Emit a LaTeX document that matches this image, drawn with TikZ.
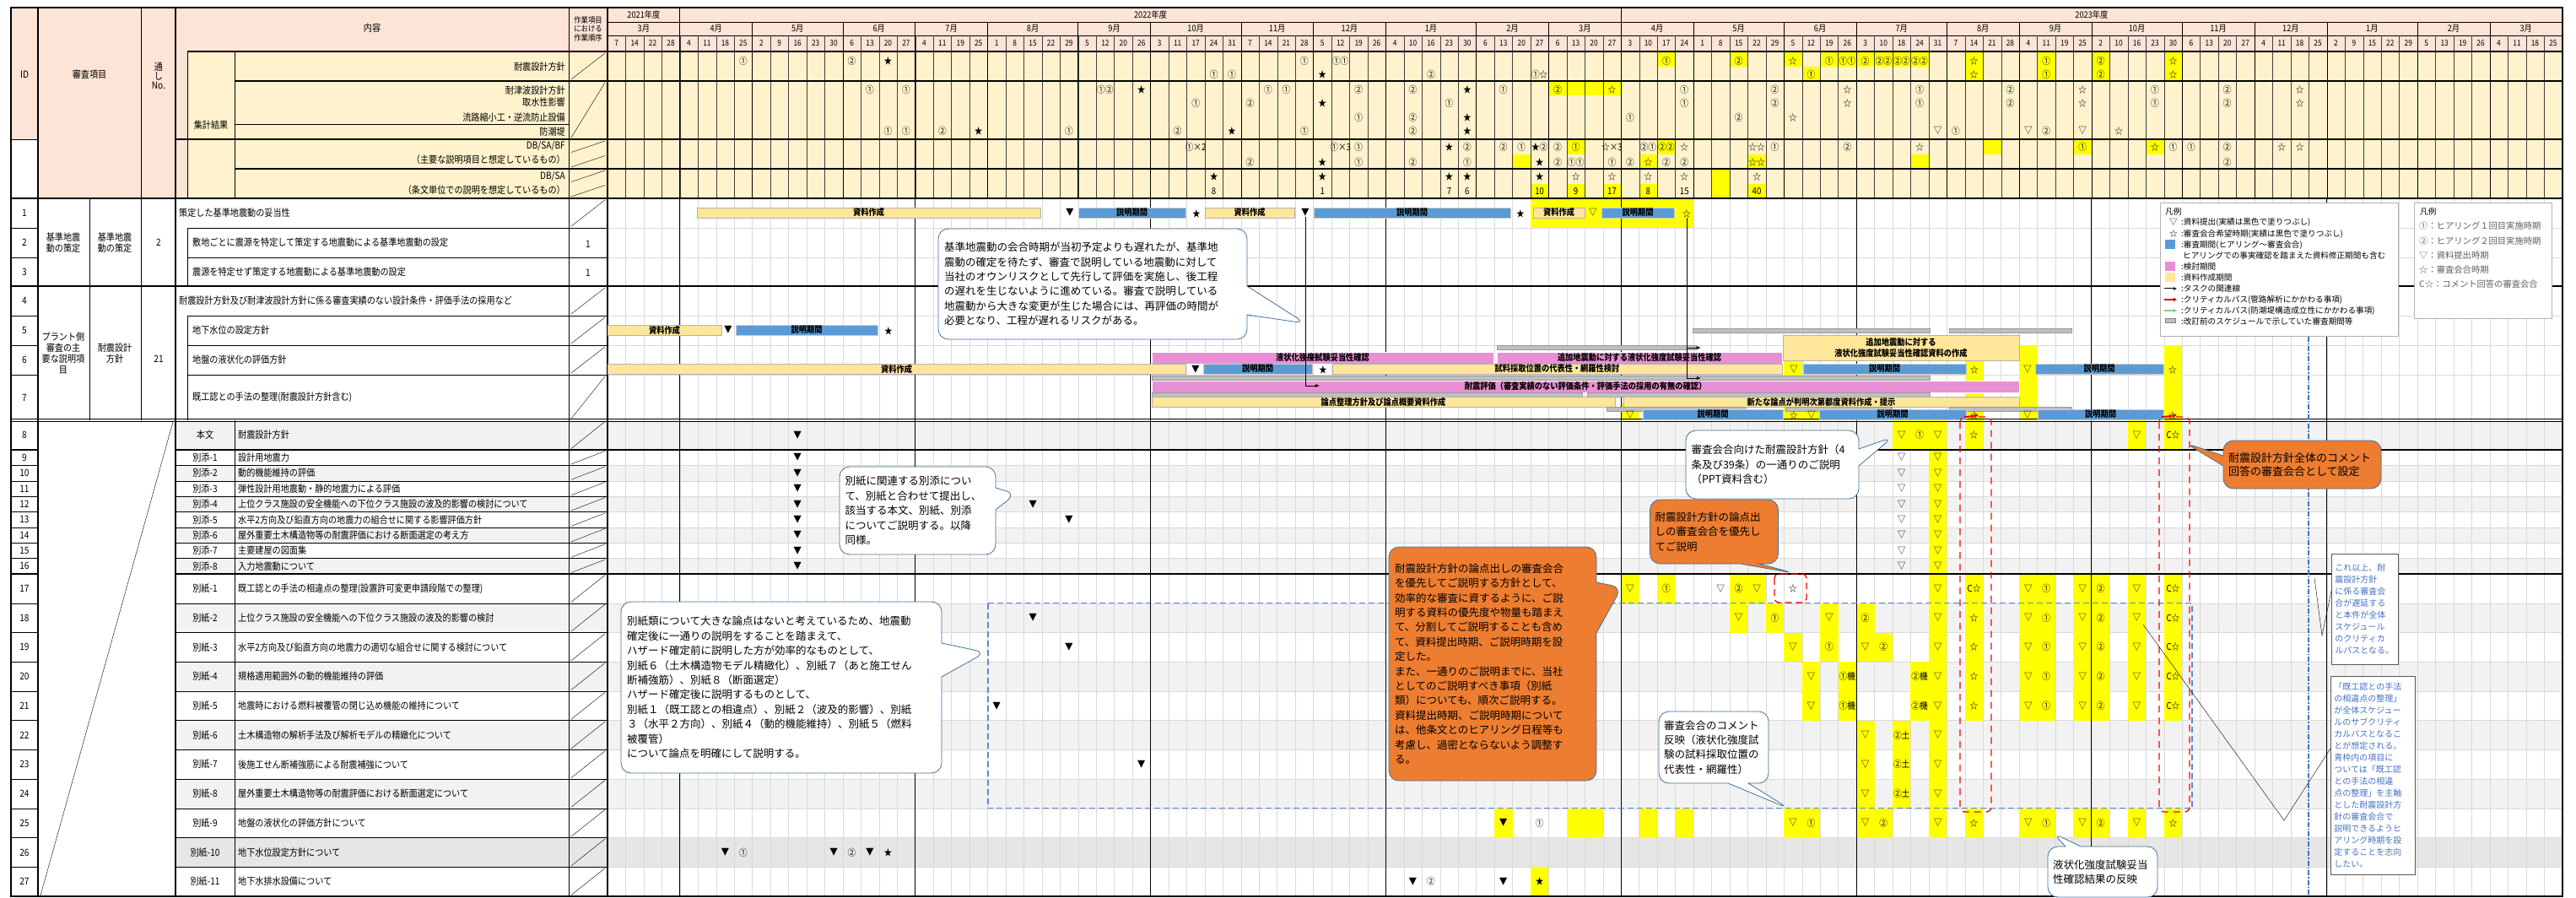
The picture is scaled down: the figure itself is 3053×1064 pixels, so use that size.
\documentclass[tikz,border=0pt]{standalone}
\usepackage{fontspec}
\setmainfont{Noto Sans CJK JP}[FakeStretch=0.88]
\newfontfamily\wfont{Noto Sans CJK JP}
\usetikzlibrary{shapes.callouts,arrows.meta}

\definecolor{hdrpink}{HTML}{FCE4D6}
\definecolor{cream}{HTML}{FFF2CC}
\definecolor{matY}{HTML}{FFE699}
\definecolor{revB}{HTML}{5B9BD5}
\definecolor{studyP}{HTML}{E98FD5}
\definecolor{oldG}{HTML}{BFBFBF}
\definecolor{hl}{HTML}{FFFF00}
\definecolor{rowgray}{HTML}{F2F2F2}
\definecolor{rowdark}{HTML}{E6E6E6}
\definecolor{gridgray}{HTML}{D9D9D9}
\definecolor{calloutO}{HTML}{ED7D31}
\definecolor{calloutB}{HTML}{41719C}
\definecolor{noteblue}{HTML}{4472C4}

% week grid: left edge and centre of week #1
\newcommand{\wx}[1]{720+21.45*(#1)}
\newcommand{\wc}[1]{730.725+21.45*(#1)}
% bar: style, x from, x to, y, name, text
\newcommand{\gbar}[6]{\node[#1, minimum width={(#3)-(#2)}] (#5) at ({((#2)+(#3))/2},#4) {#6};}

\tikzset{
  lbl/.style={font=\fontsize{11.5}{13}\selectfont, anchor=west, inner sep=0pt},
  hdr/.style={font=\fontsize{11.5}{13}\selectfont, inner sep=0pt, align=center},
  wk/.style={font=\fontsize{9.5}{10}\selectfont, inner sep=0pt},
  mk/.style={font=\fontsize{11}{11}\selectfont, inner sep=0pt},
  bar/.style={minimum height=12pt, inner sep=0pt, line width=0.3pt, font=\fontsize{10.5}{11}\selectfont\bfseries},
  barY/.style={bar, fill=matY, draw=gray!60},
  barB/.style={bar, fill=revB, draw=gray!40},
  barP/.style={bar, fill=studyP, draw=white, minimum height=14pt},
  barG/.style={bar, fill=oldG, draw=gray!80, minimum height=5pt},
  heavy/.style={line width=1.2pt},
  note/.style={rectangle callout, draw=calloutB, fill=white, line width=0.8pt, rounded corners=12pt, inner sep=6pt, align=left, font=\wfont\fontsize{12.5}{17.4}\selectfont},
  noteO/.style={note, fill=calloutO},
  bluebox/.style={draw=gray!70!black, line width=0.8pt, fill=white, inner sep=4pt, align=left, anchor=north west, text=noteblue, font=\wfont\fontsize{10}{14}\selectfont},
  legtxt/.style={anchor=west, inner sep=0pt, font=\wfont\fontsize{9.6}{11}\selectfont}
}

\begin{document}
\begin{tikzpicture}[x=1pt,y=1pt,yscale=-1]
\useasboundingbox (0,0) rectangle (3053,1064);
\fill[white] (0,0) rectangle (3053,1064);

%% fills
\fill[hdrpink] (13,9) rectangle (3037,61);
\fill[hdrpink] (13,61) rectangle (222,235);
\fill[white] (13,165) rectangle (45,235);
\fill[cream] (222,61) rectangle (3037,235);
\foreach \a/\b in {498/533,551.4/569.8,588.1/606.5,624.9/643.3,661.6/680,714.7/749.5,784.2/818.9,853.6/888.4,923.1/957.8}
  \fill[rowgray] (208,\a) rectangle (3037,\b);
\fill[rowdark] (208,992.6) rectangle (3037,1027.3);

%% light grid of the schedule
\foreach \i in {1,...,107}
  \draw[gridgray, line width=0.4pt] ({\wx{\i}},235) -- ({\wx{\i}},1062);
\foreach \y in {270,305,374,409,444,551.4,569.8,588.1,606.5,624.9,643.3,661.6,714.7,749.5,784.2,818.9,853.6,888.4,923.1,957.8,992.6,1027.3}
  \draw[gridgray, line width=0.4pt] (720,\y) -- (3037,\y);

%% yellow cells
\fill[hl] ({\wx{51}},235) rectangle ({\wx{60}},270);
\foreach \i/\a/\b in {58/61/79,62/61/79,65/61/79,67/61/79,68/61/79,69/61/79,70/61/79,71/61/79,72/61/79,75/61/96,79/61/96,82/61/96,86/61/96,66/79/96,
  52/96/113,53/96/113,54/96/113,55/96/113,
  53/165/183,58/165/183,76/165/183,81/165/183,85/165/183,50/183/200,57/183/200,63/183/200,72/183/200,
  61/200/235,51/218/235,53/218/235,55/218/235,57/218/235,63/218/235,
  56/478/498,65/428/498,66/478/498,75/427/498,78/409/498,86/409/498,
  73/498/992.6,71/498/533,72/498/533,75/498/533,84/498/533,86/498/533,
  75/680/853.6,78/680/853.6,79/680/853.6,81/680/853.6,82/680/853.6,84/680/853.6,86/680/853.6,
  75/957.8/992.6,78/957.8/992.6,79/957.8/992.6,81/957.8/992.6,82/957.8/992.6,84/957.8/992.6,86/957.8/992.6,
  56/680/714.7,58/680/714.7,62/680/714.7,63/680/714.7,
  62/714.7/749.5,64/714.7/749.5,67/714.7/749.5,69/714.7/749.5,
  65/749.5/784.2,67/749.5/784.2,69/749.5/784.2,70/749.5/784.2,
  66/784.2/853.6,68/784.2/853.6,72/784.2/853.6,69/853.6/957.8,71/853.6/957.8,
  49/957.8/992.6,53/957.8/992.6,54/957.8/992.6,57/957.8/992.6,59/957.8/992.6,65/957.8/992.6,66/957.8/992.6,69/957.8/992.6,70/957.8/992.6,
  51/1027.3/1062}
  \fill[hl] ({\wx{\i}},\a) rectangle ({\wx{\i+1}},\b);

%% header lines
\draw[line width=0.5pt] (720,26) -- (3037,26);
\draw[line width=0.5pt] (720,42) -- (3037,42);
\foreach \i in {1,...,107}
  \draw[black!75, line width=0.3pt] ({\wx{\i}},42) -- ({\wx{\i}},235);
\foreach \i in {8,13,17,21,26,30,35,39,43,48,52,60,65,69,74,78,82,87,91,95,100,104}
  \draw[line width=0.5pt] ({\wx{\i}},26) -- ({\wx{\i}},235);
\foreach \i in {4,56}
  \draw[line width=0.9pt] ({\wx{\i}},9) -- ({\wx{\i}},235);
\foreach \i in {4,17,30,43,56,69,82,95}
  \draw[line width=0.9pt] ({\wx{\i}},235) -- ({\wx{\i}},1062);
\draw[heavy] (222,61) -- (3037,61);
\draw[heavy] (278,96) -- (3037,96);
\draw (278,147) -- (674,147);
\draw[heavy] (208,165) -- (3037,165);
\draw (13,165) -- (45,165);
\draw[heavy] (278,200) -- (3037,200);
\draw[heavy] (13,235) -- (3037,235);

%% column lines
\draw[heavy] (45,9) -- (45,1062);
\draw (106,235) -- (106,498);
\draw (167,9) -- (167,498);
\draw[heavy] (208,9) -- (208,1062);
\draw (222,61) -- (222,235);
\draw (278,61) -- (278,235);
\draw (222,270) -- (222,339);
\draw (222,374) -- (222,498);
\draw (278,498) -- (278,1062);
\draw (674,9) -- (674,1062);
\draw[heavy] (720,9) -- (720,1062);

%% row lines
\foreach \y in {270,305,374,409,444} {\draw (13,\y) -- (45,\y); \draw (222,\y) -- (720,\y);}
\draw[heavy] (13,339) -- (3037,339);
\draw (13,496) -- (3037,496);
\draw (13,499.5) -- (3037,499.5);
\draw[heavy] (13,533) -- (45,533);
\draw[heavy] (208,533) -- (3037,533);
\draw[heavy] (13,680) -- (45,680);
\draw[heavy] (208,680) -- (3037,680);
\foreach \y in {551.4,569.8,588.1,606.5,624.9,643.3,661.6,714.7,749.5,784.2,818.9,853.6,888.4,923.1,957.8,992.6,1027.3}
  {\draw (13,\y) -- (45,\y); \draw (208,\y) -- (720,\y);}
\draw (205,500) -- (48,1061);
\foreach \a/\b in {61/96,96/165,165/182.5,182.5/200,200/217.5,217.5/235,235/270,339/374,374/409,409/444,444/498}
  \draw (677,\b-2) -- (717,\a+2);
\draw[line width=1.8pt] (13,9) rectangle (3037,1062);

%% header texts
% Text Node
\node[hdr] (hid) at (29,88) {ID};
\node[hdr] (hitem) at (106,88) {審査項目};
\node[hdr, font=\fontsize{11.5}{11}\selectfont] (hno) at (188,90) {通\\し\\No.};
\node[hdr] (hcont) at (441,33) {内容};
\node[hdr, font=\fontsize{9.5}{10.5}\selectfont] (hord) at (697,34) {作業項目\\における\\作業順序};
\node[hdr] (hsum) at (250,148) {集計結果};
\node[lbl, anchor=east] (sm1) at (670,79) {耐震設計方針};
\node[lbl, anchor=east] (sm2) at (670,107) {耐津波設計方針};
\node[lbl, anchor=east] (sm3) at (670,121) {取水性影響};
\node[lbl, anchor=east] (sm4) at (670,139) {流路縮小工・逆流防止設備};
\node[lbl, anchor=east] (sm5) at (670,156) {防潮堤};
\node[lbl, anchor=east] (sm6) at (670,173) {DB/SA/BF};
\node[lbl, anchor=east] (sm7) at (670,189) {（主要な説明項目と想定しているもの）};
\node[lbl, anchor=east] (sm8) at (670,209) {DB/SA};
\node[lbl, anchor=east] (sm9) at (670,225) {（条文単位での説明を想定しているもの）};

% Text Node: years, months, weeks
\node[hdr, font=\fontsize{10.5}{11}\selectfont] (yr21) at ({\wx{2}},17.5) {2021年度};
\node[hdr, font=\fontsize{10.5}{11}\selectfont] (yr22) at ({\wx{30}},17.5) {2022年度};
\node[hdr, font=\fontsize{10.5}{11}\selectfont] (yr23) at ({\wx{82}},17.5) {2023年度};
\foreach \m/\a/\b in {3月/0/4,4月/4/8,5月/8/13,6月/13/17,7月/17/21,8月/21/26,9月/26/30,10月/30/35,11月/35/39,12月/39/43,1月/43/48,2月/48/52,3月/52/56,4月/56/60,5月/60/65,6月/65/69,7月/69/74,8月/74/78,9月/78/82,10月/82/87,11月/87/91,12月/91/95,1月/95/100,2月/100/104,3月/104/108}
  \node[hdr, font=\fontsize{10.5}{11}\selectfont] (mo\a) at ({\wx{(\a+\b)/2}},34) {\m};
\foreach \d [count=\i from 0] in {7,14,22,28,4,11,18,25,2,9,16,23,30,6,13,20,27,4,11,19,25,1,8,15,22,29,5,12,20,26,3,11,17,24,31,7,14,21,28,5,12,19,26,4,10,16,23,30,6,13,20,27,6,13,20,27,3,10,17,24,1,8,15,22,29,5,12,19,26,3,10,18,24,31,7,14,21,28,4,11,19,25,2,10,16,23,30,6,13,20,27,4,11,18,25,2,9,15,22,29,5,13,19,26,4,11,18,25}
  \node[wk] (dy\i) at ({\wc{\i}},51.5) {\d};

% marks of the summary rows
\foreach \i/\yy/\m in {7/72/①,13/72/②,15/72/★,38/72/①,40/72/①①,58/72/①,62/72/②,65/72/☆,67/72/①,68/72/①①,69/72/②,70/72/②②,71/72/②②,72/72/②②,75/72/☆,79/72/①,82/72/②,86/72/☆,
  33/88/①,34/88/①,39/88/★,45/88/②,51/88/①☆,66/88/①,75/88/☆,79/88/①,82/88/②,86/88/☆,
  14/106/①,16/106/①,27/106/①②,29/106/★,36/106/①,37/106/①,41/106/②,44/106/②,47/106/★,49/106/①,52/106/②,55/106/☆,59/106/①,64/106/②,68/106/☆,72/106/①,77/106/②,81/106/☆,85/106/①,89/106/②,93/106/☆,
  32/122/①,35/122/②,39/122/★,46/122/①,59/122/①,64/122/②,68/122/☆,72/122/①,77/122/②,81/122/☆,85/122/①,89/122/②,93/122/☆,
  41/139/①,44/139/②,47/139/★,56/139/①,62/139/②,65/139/☆,
  15/155/①,16/155/①,18/155/②,20/155/★,25/155/①,31/155/②,34/155/★,38/155/①,44/155/②,47/155/★,73/155/▽,74/155/①,78/155/▽,79/155/②,81/155/▽,83/155/☆,
  32/174/①×2,40/174/①×3,41/174/①,46/174/★,47/174/②,49/174/②,50/174/①,51/174/★②,52/174/②,53/174/①,55/174/☆×3,57/174/②①,58/174/②②,59/174/☆,63/174/☆☆,64/174/①,68/174/②,72/174/☆,81/174/①,85/174/☆,86/174/①,87/174/①,89/174/②,92/174/☆,93/174/☆,
  35/192/②,39/192/★,41/192/①,44/192/②,47/192/①,51/192/★,52/192/②,53/192/①①,55/192/①,56/192/②,57/192/☆,58/192/②,59/192/②,63/192/☆☆,89/192/②,
  33/209/★,39/209/★,46/209/★,47/209/★,51/209/★,53/209/☆,55/209/☆,57/209/☆,59/209/☆,63/209/☆,
  33/227/8,39/227/1,46/227/7,47/227/6,51/227/10,53/227/9,55/227/17,57/227/8,59/227/15,63/227/40}
  \node[mk] (k\i-\yy) at ({\wc{\i}},\yy) {\m};

%% rows 1-7
\foreach \n/\y in {1/252.5,2/287.5,3/322,4/356.5,5/391.5,6/426.5,7/471}
  \node[hdr] (id\n) at (29,\y) {\n};
\node[hdr] (grpA1) at (75,287.5) {基準地震\\動の策定};
\node[hdr] (grpB1) at (136,287.5) {基準地震\\動の策定};
\node[hdr] (no1) at (188,287.5) {2};
\node[hdr] (grpA2) at (75,419) {プラント側\\審査の主\\要な説明項\\目};
\node[hdr] (grpB2) at (136,419) {耐震設計\\方針};
\node[hdr] (no2) at (188,425) {21};
\node[lbl] (c1) at (212,252.5) {策定した基準地震動の妥当性};
\node[lbl] (c2) at (228,287.5) {敷地ごとに震源を特定して策定する地震動による基準地震動の設定};
\node[lbl] (c3) at (228,322) {震源を特定せず策定する地震動による基準地震動の設定};
\node[lbl] (c4) at (212,356.5) {耐震設計方針及び耐津波設計方針に係る審査実績のない設計条件・評価手法の採用など};
\node[lbl] (c5) at (228,391.5) {地下水位の設定方針};
\node[lbl] (c6) at (228,426.5) {地盤の液状化の評価方針};
\node[lbl] (c7) at (228,471) {既工認との手法の整理(耐震設計方針含む)};
\node[hdr] (ord2) at (697,289) {1};
\node[hdr] (ord3) at (697,323) {1};

%% rows 8-27
\foreach \tg/\lab/\y/\hh [count=\rw from 8] in {本文/耐震設計方針/515.5/17.5,別添-1/設計用地震力/542.2/9.2,別添-2/動的機能維持の評価/560.6/9.2,別添-3/弾性設計用地震動・静的地震力による評価/579/9.2,別添-4/上位クラス施設の安全機能への下位クラス施設の波及的影響の検討について/597.3/9.2,別添-5/水平2方向及び鉛直方向の地震力の組合せに関する影響評価方針/615.7/9.2,別添-6/屋外重要土木構造物等の耐震評価における断面選定の考え方/634.1/9.2,別添-7/主要建屋の図面集/652.5/9.2,別添-8/入力地震動について/670.8/9.2,
  別紙-1/既工認との手法の相違点の整理(設置許可変更申請段階での整理)/697.4/17.4,別紙-2/上位クラス施設の安全機能への下位クラス施設の波及的影響の検討/732.1/17.4,別紙-3/水平2方向及び鉛直方向の地震力の適切な組合せに関する検討について/766.8/17.4,別紙-4/規格適用範囲外の動的機能維持の評価/801.5/17.4,別紙-5/地震時における燃料被覆管の閉じ込め機能の維持について/836.3/17.4,別紙-6/土木構造物の解析手法及び解析モデルの精緻化について/871/17.4,別紙-7/後施工せん断補強筋による耐震補強について/905.7/17.4,別紙-8/屋外重要土木構造物等の耐震評価における断面選定について/940.4/17.4,別紙-9/地盤の液状化の評価方針について/975.2/17.4,別紙-10/地下水位設定方針について/1009.9/17.4,別紙-11/地下水排水設備について/1044.6/17.4}
{
  \node[hdr] (id\rw) at (29,\y) {\rw};
  \node[hdr] (tag\rw) at (243,\y) {\tg};
  \node[lbl] (c\rw) at (282,\y) {\lab};
  \draw (677,\y+\hh-1.5) -- (717,\y-\hh+1.5);
}

%% bars, row 1
\gbar{barY}{826}{1233}{252}{r1a}{資料作成}
\node[mk] (r1t1) at (1268,252) {▼};
\gbar{barB}{1278}{1405}{252}{r1b}{説明期間}
\node[mk] (r1s1) at (1418,253) {★};
\gbar{barY}{1428}{1534}{252}{r1c}{資料作成}
\node[mk] (r1t2) at (1547,252) {▼};
\gbar{barB}{1557}{1790}{252}{r1d}{説明期間}
\node[mk] (r1s2) at (1802,253) {★};
\gbar{barY}{1817}{1878}{252}{r1e}{資料作成}
\node[mk] (r1t3) at (1888,252) {▽};
\gbar{barB}{1898}{1984}{252}{r1f}{説明期間}
\node[mk] (r1s3) at (1999,253) {☆};
%% row 5
\gbar{barY}{720}{855}{391}{r5a}{資料作成}
\node[mk] (r5t1) at (863,391) {▼};
\gbar{barB}{872}{1040}{391}{r5b}{説明期間}
\node[mk] (r5s1) at (1053,392) {★};
%% row 6
\gbar{barG}{2006}{2287}{391.5}{r6g2}{}
\gbar{barG}{2310}{2455}{391.5}{r6g3}{}
\gbar{barG}{1774}{2010}{412}{r6g1}{}
\node[barY, minimum width=280pt, minimum height=30pt, align=center, font=\fontsize{10.5}{13}\selectfont\bfseries] (r6m) at (2253,412) {追加地震動に対する\\液状化強度試験妥当性確認資料の作成};
\gbar{barP}{1365}{1770}{424}{r6p1}{液状化強度試験妥当性確認}
\gbar{barP}{1774}{2112}{424}{r6p2}{追加地震動に対する液状化強度試験妥当性確認}
\gbar{barY}{720}{1405}{437}{r6a}{資料作成}
\node[mk] (r6t1) at (1417,438) {▼};
\gbar{barB}{1426}{1555}{437}{r6b}{説明期間}
\node[mk] (r6s1) at (1568,438) {★};
\gbar{barY}{1579}{2112}{437}{r6c}{試料採取位置の代表性・網羅性検討}
\node[mk] (r6t2) at (2126,438) {▽};
\gbar{barB}{2137}{2330}{437}{r6d}{説明期間}
\node[mk] (r6s2) at (2340,438) {☆};
\node[mk] (r6t3) at (2403,438) {▽};
\gbar{barB}{2412}{2564}{437}{r6e}{説明期間}
\node[mk] (r6s3) at (2575,438) {☆};
%% row 7
\gbar{barG}{1365}{2287}{447.5}{r7g1}{}
\gbar{barP}{1365}{2393}{458}{r7p1}{耐震評価（審査実績のない評価条件・評価手法の採用の有無の確認）}
\gbar{barG}{1365}{1875}{468}{r7g2}{}
\gbar{barG}{1881}{2287}{468}{r7g3}{}
\gbar{barY}{1365}{1914}{476}{r7a}{論点整理方針及び論点概要資料作成}
\gbar{barY}{1924}{2393}{476}{r7b}{新たな論点が判明次第都度資料作成・提示}
\gbar{barG}{1904}{2068}{484.5}{r7g4}{}
\gbar{barG}{2116}{2242}{484.5}{r7g5}{}
\gbar{barG}{2310}{2455}{484.5}{r7g6}{}
\node[mk] (r7t1) at (1932,492) {▽};
\gbar{barB}{1947}{2113}{491}{r7c}{説明期間}
\node[mk] (r7s1) at (2126,492) {☆};
\node[mk] (r7t2) at (2147,492) {▽};
\gbar{barB}{2156}{2330}{491}{r7d}{説明期間}
\node[mk] (r7s2) at (2340,492) {☆};
\node[mk] (r7t3) at (2403,492) {▽};
\gbar{barB}{2415}{2564}{491}{r7e}{説明期間}
\node[mk] (r7s3) at (2575,492) {☆};

%% task links
\coordinate (p6a) at (1564,423);
\coordinate (p7a) at (1564,457);
\coordinate (p6b) at (2016,412);
\coordinate (p7b) at (2016,448);
\draw[-{Latex[length=5pt,width=4pt]}, line width=0.9pt] (r1t2.south) |- (p6a);
\draw[-{Latex[length=5pt,width=4pt]}, line width=0.9pt] (r1t2.south) |- (p7a);
\draw[-{Latex[length=5pt,width=4pt]}, line width=0.9pt] (r1s3.south) |- (p6b);
\draw[-{Latex[length=5pt,width=4pt]}, line width=0.9pt] (r1s3.south) |- (p7b);
\coordinate (cp1) at (2328,494);
\coordinate (cp2) at (2562,494);
\draw[red!85!black, -{Latex[length=5pt,width=5pt]}, line width=1.6pt] (cp1) -- (r7s2.east);
\draw[red!85!black, -{Latex[length=5pt,width=5pt]}, line width=1.6pt] (cp2) -- (r7s3.east);

%% marks, rows 8-27
\foreach \i/\m in {10/▼,71/▽,72/①,73/▽,75/☆,84/▽,86/C☆}
  \node[mk] (b8-\i) at ({\wc{\i}},515.5) {\m};
\foreach \y [count=\rw from 9] in {542.2,560.6,579,597.3,615.7,634.1,652.5,670.8}
{
  \node[mk] (b\rw-10) at ({\wc{10}},\y) {▼};
  \node[mk] (b\rw-71) at ({\wc{71}},\y) {▽};
  \node[mk] (b\rw-73) at ({\wc{73}},\y) {▽};
}
\node[mk] (b12-23) at ({\wc{23}},597.3) {▼};
\node[mk] (b13-25) at ({\wc{25}},615.7) {▼};
\foreach \i/\m in {56/▽,58/①,61/▽,62/②,63/▽,65/☆,73/▽,75/C☆,78/▽,79/①,81/▽,82/②,84/▽,86/C☆}
  \node[mk] (b17-\i) at ({\wc{\i}},697.4) {\m};
\foreach \i/\m in {23/▼,62/▽,64/①,67/▽,69/②,73/▽,75/☆,78/▽,79/①,81/▽,82/②,84/▽,86/C☆}
  \node[mk] (b18-\i) at ({\wc{\i}},732.1) {\m};
\foreach \i/\m in {25/▼,65/▽,67/①,69/▽,70/②,73/▽,75/☆,78/▽,79/①,81/▽,82/②,84/▽,86/C☆}
  \node[mk] (b19-\i) at ({\wc{\i}},766.8) {\m};
\foreach \i/\m in {66/▽,68/①機,72/②機,73/▽,75/☆,78/▽,79/①,81/▽,82/②,84/▽,86/C☆}
  \node[mk] (b20-\i) at ({\wc{\i}},801.5) {\m};
\foreach \i/\m in {21/▼,66/▽,68/①機,72/②機,73/▽,75/☆,78/▽,79/①,81/▽,82/②,84/▽,86/C☆}
  \node[mk] (b21-\i) at ({\wc{\i}},836.3) {\m};
\foreach \i/\m in {69/▽,71/②土,73/▽}
  \node[mk] (b22-\i) at ({\wc{\i}},871) {\m};
\foreach \i/\m in {29/▼,69/▽,71/②土,73/▽}
  \node[mk] (b23-\i) at ({\wc{\i}},905.7) {\m};
\foreach \i/\m in {69/▽,71/②土,73/▽}
  \node[mk] (b24-\i) at ({\wc{\i}},940.4) {\m};
\foreach \i/\m in {49/▼,51/①,65/▽,66/①,69/▽,70/②,73/▽,75/☆,78/▽,79/①,81/▽,82/②,84/▽,86/☆}
  \node[mk] (b25-\i) at ({\wc{\i}},975.2) {\m};
\foreach \i/\m in {6/▼,7/①,12/▼,13/②,14/▼,15/★}
  \node[mk] (b26-\i) at ({\wc{\i}},1009.9) {\m};
\foreach \i/\m in {44/▼,45/②,49/▼,51/★}
  \node[mk] (b27-\i) at ({\wc{\i}},1044.6) {\m};

%% frames over the schedule
\draw[noteblue!85, line width=1.3pt, dash pattern=on 7pt off 4pt] (1171,714.7) rectangle (2598,957.8);
\draw[red, line width=1.3pt, dash pattern=on 8pt off 6pt, rounded corners=6pt] (2323,494) rectangle (2360,962);
\draw[red, line width=1.3pt, dash pattern=on 8pt off 6pt, rounded corners=6pt] (2559,494) rectangle (2595,962);
\draw[red, line width=1.3pt, dash pattern=on 8pt off 5pt, rounded corners=5pt] (2103,680) rectangle (2141,714);

%% legends
\node[draw=gray!60, line width=0.8pt, fill=white, minimum width=282pt, minimum height=158pt, anchor=north west, inner sep=0pt] (leg1) at (2560,240) {};
\coordinate (dd) at (2736,1062);
\draw[noteblue, line width=1.2pt, dash pattern=on 6pt off 2pt on 1.5pt off 2pt] (leg1.south -| dd) -- (dd);
\node[legtxt] (lg0) at (2566,251) {凡例};
\node[legtxt] (lg1s) at (2571,263) {▽};
\node[legtxt] (lg1) at (2585,263) {:資料提出(実績は黒色で塗りつぶし)};
\node[legtxt] (lg2s) at (2571,277) {☆};
\node[legtxt] (lg2) at (2585,277) {:審査会合希望時期(実績は黒色で塗りつぶし)};
\node[fill=revB, minimum width=12pt, minimum height=11pt, inner sep=0pt] (lg3s) at (2572,290) {};
\node[legtxt] (lg3) at (2585,290) {:審査期間(ヒアリング～審査会合)};
\node[legtxt] (lg3b) at (2587,303) {ヒアリングでの事実確認を踏まえた資料修正期間も含む};
\node[fill=studyP, minimum width=12pt, minimum height=11pt, inner sep=0pt] (lg4s) at (2572,316) {};
\node[legtxt] (lg4) at (2585,316) {:検討期間};
\node[fill=matY, minimum width=12pt, minimum height=11pt, inner sep=0pt] (lg5s) at (2572,329) {};
\node[legtxt] (lg5) at (2585,329) {:資料作成期間};
\coordinate (la1) at (2565,342); \coordinate (la2) at (2580,342);
\draw[-{Latex[length=4pt,width=4pt]}, line width=1pt] (la1) -- (la2);
\node[legtxt] (lg6) at (2585,342) {:タスクの関連線};
\coordinate (lb1) at (2565,355); \coordinate (lb2) at (2580,355);
\draw[red!85!black, -{Latex[length=4pt,width=5pt]}, line width=1.5pt] (lb1) -- (lb2);
\node[legtxt] (lg7) at (2585,355) {:クリティカルパス(管路解析にかかわる事項)};
\coordinate (lc1) at (2565,368); \coordinate (lc2) at (2580,368);
\draw[green!60!gray!70, -{Latex[length=4pt,width=5pt]}, line width=1.5pt] (lc1) -- (lc2);
\node[legtxt] (lg8) at (2585,368) {:クリティカルパス(防潮堤構造成立性にかかわる事項)};
\node[fill=oldG, draw=gray, minimum width=12pt, minimum height=5pt, inner sep=0pt] (lg9s) at (2572,380) {};
\node[legtxt] (lg9) at (2585,381) {:改訂前のスケジュールで示していた審査期間等};

\node[draw=gray!60, line width=0.8pt, fill=white, minimum width=163pt, minimum height=137pt, anchor=north west, inner sep=0pt] (leg2) at (2861,240) {};
\node[legtxt] (lh0) at (2868,251) {凡例};
\foreach \m/\y [count=\q] in {①：ヒアリング１回目実施時期/268,②：ヒアリング２回目実施時期/286,▽：資料提出時期/303,☆：審査会合時期/320,C☆：コメント回答の審査会合/337}
  \node[legtxt, text=gray!75!black, font=\wfont\fontsize{10.3}{12}\selectfont] (lh\q) at (2867,\y) {\m};

%% call-outs
\node[note, minimum width=366pt, minimum height=131pt, text width=352pt, callout absolute pointer={(1547,383)}, callout pointer width=34pt] (cA) at (1295,336.5) {基準地震動の会合時期が当初予定よりも遅れたが、基準地\\震動の確定を待たず、審査で説明している地震動に対して\\当社のオウンリスクとして先行して評価を実施し、後工程\\の遅れを生じないように進めている。審査で説明している\\地震動から大きな変更が生じた場合には、再評価の時間が\\必要となり、工程が遅れるリスクがある。};
\node[note, minimum width=185pt, minimum height=104pt, text width=172pt, callout absolute pointer={(1204,585)}, callout pointer width=26pt] (cB) at (1087.5,605) {別紙に関連する別添につい\\て、別紙と合わせて提出し、\\該当する本文、別紙、別添\\についてご説明する。以降\\同様。};
\node[note, minimum width=380pt, minimum height=203pt, text width=366pt, callout absolute pointer={(1168,773)}, callout pointer width=40pt] (cC) at (926,814.5) {別紙類について大きな論点はないと考えているため、地震動\\確定後に一通りの説明をすることを踏まえて、\\ハザード確定前に説明した方が効率的なものとして、\\別紙６（土木構造物モデル精緻化）、別紙７（あと施工せん\\断補強筋）、別紙８（断面選定）\\ハザード確定後に説明するものとして、\\別紙１（既工認との相違点）、別紙２（波及的影響）、別紙\\３（水平２方向）、別紙４（動的機能維持）、別紙５（燃料\\被覆管）\\について論点を明確にして説明する。};
\node[noteO, minimum width=246pt, minimum height=277pt, text width=232pt, callout absolute pointer={(1922,696)}, callout pointer width=60pt] (cD) at (1769,786.5) {耐震設計方針の論点出しの審査会合\\を優先してご説明する方針として、\\効率的な審査に資するように、ご説\\明する資料の優先度や物量も踏まえ\\て、分割してご説明することも含め\\て、資料提出時期、ご説明時期を設\\定した。\\また、一通りのご説明までに、当社\\としてのご説明すべき事項（別紙\\類）についても、順次ご説明する。\\資料提出時期、ご説明時期について\\は、他条文とのヒアリング日程等も\\考慮し、過密とならないよう調整す\\る。};
\node[noteO, minimum width=152pt, minimum height=76pt, text width=140pt, callout absolute pointer={(2126,679)}, callout pointer width=22pt] (cE) at (2031.5,630) {耐震設計方針の論点出\\しの審査会合を優先し\\てご説明};
\node[note, minimum width=205pt, minimum height=81pt, text width=192pt, callout absolute pointer={(2243,518)}, callout pointer width=20pt] (cF) at (2100.5,550.5) {審査会合向けた耐震設計方針（4\\条及び39条）の一通りのご説明\\（PPT資料含む）};
\node[noteO, minimum width=187pt, minimum height=57pt, text width=175pt, callout absolute pointer={(2590,525)}, callout pointer width=12pt, font=\wfont\fontsize{13}{16.5}\selectfont] (cG) at (2728.5,550.5) {耐震設計方針全体のコメント\\回答の審査会合として設定};
\node[note, minimum width=130pt, minimum height=85pt, text width=118pt, callout absolute pointer={(2120,958)}, callout pointer width=24pt] (cH) at (2031,885.5) {審査会合のコメント\\反映（液状化強度試\\験の試料採取位置の\\代表性・網羅性）};
\node[note, minimum width=130pt, minimum height=60pt, text width=118pt, callout absolute pointer={(2433,987)}, callout pointer width=18pt] (cI) at (2492,1033) {液状化強度試験妥当\\性確認結果の反映};

%% notes on the right
\node[bluebox, minimum width=79pt, minimum height=131pt, text width=71pt] (nb1) at (2763,656) {これ以上、耐\\震設計方針\\に係る審査会\\合が遅延する\\と本件が全体\\スケジュール\\のクリティカ\\ルパスとなる。};
\node[bluebox, minimum width=100pt, minimum height=235pt, text width=92pt] (nb2) at (2762,801) {「既工認との手法\\の相違点の整理」\\が全体スケジュー\\ルのサブクリティ\\カルパスとなるこ\\とが想定される。\\青枠内の項目に\\ついては「既工認\\との手法の相違\\点の整理」を主軸\\とした耐震設計方\\針の審査会合で\\説明できるようヒ\\アリング時期を設\\定することを志向\\したい。};
\coordinate (q1) at (2743,685);
\coordinate (q2) at (2540,740);
\draw (q1) -- (2752,753) -- ([yshift=-22pt]nb1.west);
\draw (q2) -- (2707,972) -- ([yshift=-32pt]nb2.west);

\end{tikzpicture}
\end{document}
